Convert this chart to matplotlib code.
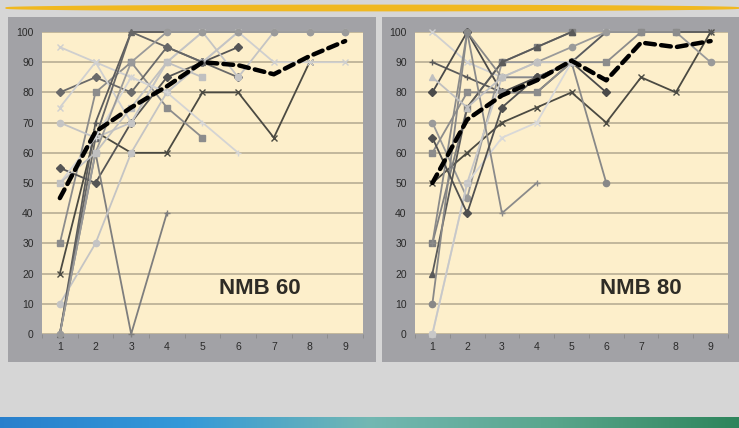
import matplotlib
matplotlib.use("Agg")
import matplotlib.pyplot as plt
import numpy as np

plt.rcParams["font.family"] = ["Liberation Sans", "DejaVu Sans"]

W, H = 739, 428
weeks = [1, 2, 3, 4, 5, 6, 7, 8, 9]
y_ticks = [0, 10, 20, 30, 40, 50, 60, 70, 80, 90, 100]

# --- NMB 60: individual series (None = no value) ---
nmb60_series = [
    [20, 67, 60, 60, 80, 80, 65, 90, None],
    [30, 80, 90, 75, 65, None, None, None, None],
    [55, 50, 70, 85, 90, 95, None, None, None],
    [80, 85, 80, 95, 90, 85, None, None, None],
    [95, 90, 85, 80, 90, 100, 90, 90, 90],
    [75, 90, 70, 90, 100, None, None, None, None],
    [70, 65, 70, 90, 100, 85, 100, 100, 100],
    [0, 60, 0, 40, None, None, None, None, None],
    [10, 30, 60, 80, 90, 100, None, None, None],
    [0, 70, 100, 100, 100, 100, None, None, None],
    [0, 65, 100, 95, 90, None, None, None, None],
    [50, 65, 85, 80, 70, 60, None, None, None],
    [0, 60, 90, 100, 100, 100, 100, 100, 100],
    [50, 60, 75, 90, 85, None, None, None, None],
]
nmb60_mean = [45, 67, 75, 82, 90, 89, 86, 92, 97]

# --- NMB 80: individual series ---
nmb80_series = [
    [50, 60, 70, 75, 80, 70, 85, 80, 100],
    [100, 90, 85, 85, 90, 100, None, None, None],
    [90, 85, 80, 80, 90, 100, 100, 100, 100],
    [80, 100, 80, 85, 90, 80, None, None, None],
    [70, 45, 90, 90, 95, 100, 100, 100, 90],
    [60, 80, 80, 80, 90, 90, 100, 100, None],
    [30, 75, 90, 95, 100, None, None, None, None],
    [20, 75, 90, 95, 100, None, None, None, None],
    [10, 100, 85, 85, 90, 50, None, None, None],
    [0, 50, 65, 70, 90, None, None, None, None],
    [0, 50, 85, 90, 90, None, None, None, None],
    [30, 100, 40, 50, None, None, None, None, None],
    [65, 40, 75, 85, None, None, None, None, None],
    [85, 75, 85, 90, 90, None, None, None, None],
]
nmb80_mean = [50, 71, 79, 84, 90.5, 84, 96.5, 95, 97]

styles60 = [
    ("#4b4a42", "x"), ("#8c8c8c", "s"), ("#555555", "D"), ("#6a6a6a", "D"),
    ("#cfcfcf", "x"), ("#d0d0d0", "x"), ("#c4c4c4", "o"), ("#7e7e7e", "+"),
    ("#c4c4c4", "o"), ("#5c5c5c", "+"), ("#666666", "^"), ("#d4d4d4", "+"),
    ("#9a9a9a", "o"), ("#c0c0c0", "s"),
]
styles80 = [
    ("#4b4a42", "x"), ("#d0d0d0", "x"), ("#5a5a5a", "+"), ("#4a4a4a", "D"),
    ("#9a9a9a", "o"), ("#8c8c8c", "s"), ("#808080", "s"), ("#5a5a5a", "^"),
    ("#888888", "o"), ("#d8d8d8", "x"), ("#c8c8c8", "o"), ("#8a8a8a", "+"),
    ("#505050", "D"), ("#c0c0c0", "^"),
]

fig = plt.figure(figsize=(W / 100, H / 100), dpi=100)
fig.patch.set_facecolor("#d6d6d6")


def px_rect(x0, y0, x1, y1):
    # pixel box (top-left origin) -> figure fraction rect
    return [x0 / W, 1 - y1 / H, (x1 - x0) / W, (y1 - y0) / H]


# grey panel boxes behind the charts (plain axes, drawn first)
for x0, x1 in [(8, 376), (382, 739)]:
    box = fig.add_axes(px_rect(x0, 17, x1, 362), zorder=-1)
    box.set_facecolor("#a2a2a6")
    box.set_xticks([])
    box.set_yticks([])
    for s in box.spines.values():
        s.set_visible(False)

# yellow brush stroke at the top
ax_top = fig.add_axes(px_rect(0, 0, W, 14))
ax_top.set_xlim(0, W)
ax_top.set_ylim(14, 0)
ax_top.axis("off")
xs = np.linspace(5, W, 200)
half = 0.8 + 2.6 * np.sin(np.pi * (xs - 5) / (W - 5)) ** 0.5
ax_top.fill_between(xs, 7.5 - half, 7.5 + half, color="#f0b820", lw=0)

# blue-green bar at the bottom
ax_bot = fig.add_axes(px_rect(0, 417, W, H))
ax_bot.axis("off")
grad = np.array([[0.16, 0.50, 0.80], [0.20, 0.60, 0.85], [0.45, 0.72, 0.70],
                 [0.35, 0.65, 0.55], [0.18, 0.52, 0.36]])
pos = np.linspace(0, 1, len(grad))
t = np.linspace(0, 1, 400)
img = np.stack([np.interp(t, pos, grad[:, c]) for c in range(3)], axis=-1)
ax_bot.imshow(img[None, :, :], aspect="auto", extent=(0, 1, 0, 1))


def draw_panel(rect, series, styles, mean, label, label_x):
    ax = fig.add_axes(rect, zorder=2)
    ax.set_facecolor("#fdefcb")
    for vals, (color, marker) in zip(series, styles):
        xv = [w for w, v in zip(weeks, vals) if v is not None]
        yv = [v for v in vals if v is not None]
        ax.plot(xv, yv, color=color, lw=1.3, marker=marker, ms=4.5,
                mec=color, mfc=color, mew=1.0, zorder=3, clip_on=False)
    ax.plot(weeks, mean, color="black", lw=3.2, ls=(0, (2.2, 1.4)),
            zorder=5, dash_capstyle="round")
    ax.set_xlim(0.5, 9.5)
    ax.set_ylim(0, 100)
    ax.set_yticks(y_ticks)
    ax.set_xticks(weeks)
    ax.set_xticks(np.arange(0.5, 10, 1), minor=True)
    ax.grid(axis="y", color="#b8ad94", lw=1.2, zorder=1)
    ax.set_axisbelow(True)
    for s in ax.spines.values():
        s.set_visible(False)
    ax.tick_params(axis="both", which="major", labelsize=7.5, labelcolor="#2a2a2a",
                   length=0, pad=6)
    ax.tick_params(axis="x", which="minor", length=3, color="#8a8a8a")
    ax.text(label_x, 15, label, fontsize=16, fontweight="bold", color="#2e2c26",
            ha="center", va="center", zorder=6)
    return ax


draw_panel(px_rect(42, 32, 363, 334), nmb60_series, styles60, nmb60_mean, "NMB 60", 6.6)
draw_panel(px_rect(415, 32, 728, 334), nmb80_series, styles80, nmb80_mean, "NMB 80", 7.0)

fig.savefig("out.png", dpi=100, facecolor=fig.get_facecolor())
